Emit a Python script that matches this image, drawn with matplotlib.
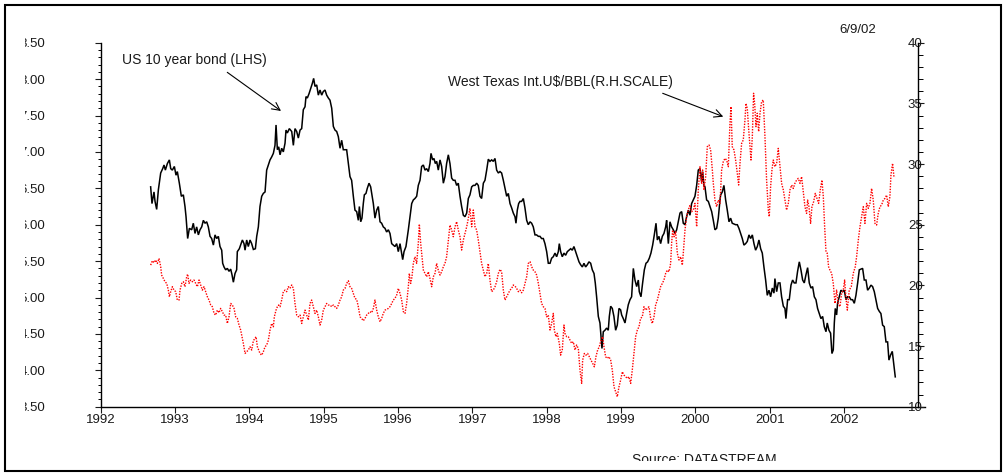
import numpy as np
import matplotlib
matplotlib.use("Agg")
import matplotlib.pyplot as plt
from matplotlib.patches import Rectangle
from matplotlib.ticker import MultipleLocator, FixedLocator

plt.rcParams['font.family'] = ['Liberation Sans', 'DejaVu Sans']

# US 10 year bond yield (left scale), decimal years
bond_t = [
    1992.672, 1992.690, 1992.717, 1992.731, 1992.753, 1992.776, 1992.807, 1992.834, 1992.852, 1992.870,
    1992.897, 1992.924, 1992.942, 1992.964, 1992.991, 1993.013, 1993.031, 1993.058, 1993.085, 1993.112,
    1993.134, 1993.148, 1993.170, 1993.193, 1993.224, 1993.246, 1993.269, 1993.291, 1993.314, 1993.336,
    1993.359, 1993.381, 1993.403, 1993.426, 1993.448, 1993.471, 1993.493, 1993.516, 1993.538, 1993.560,
    1993.583, 1993.605, 1993.628, 1993.641, 1993.659, 1993.681, 1993.704, 1993.726, 1993.749, 1993.767,
    1993.785, 1993.807, 1993.829, 1993.838, 1993.865, 1993.888, 1993.906, 1993.928, 1993.942, 1993.964,
    1993.986, 1994.009, 1994.031, 1994.054, 1994.081, 1994.099, 1994.121, 1994.143, 1994.166, 1994.188,
    1994.211, 1994.233, 1994.256, 1994.278, 1994.300, 1994.323, 1994.345, 1994.359, 1994.377, 1994.395,
    1994.413, 1994.435, 1994.457, 1994.480, 1994.493, 1994.511, 1994.538, 1994.570, 1994.592, 1994.614,
    1994.637, 1994.659, 1994.682, 1994.704, 1994.726, 1994.749, 1994.762, 1994.780, 1994.803, 1994.825,
    1994.847, 1994.865, 1994.883, 1994.906, 1994.928, 1994.951, 1994.973, 1994.995, 1995.018, 1995.040,
    1995.063, 1995.085, 1995.108, 1995.130, 1995.152, 1995.175, 1995.197, 1995.220,
    1995.242, 1995.264, 1995.309, 1995.332, 1995.354, 1995.376, 1995.399, 1995.421, 1995.444, 1995.466,
    1995.480, 1995.498, 1995.515, 1995.533, 1995.547, 1995.569, 1995.587, 1995.610, 1995.632, 1995.646,
    1995.668, 1995.690, 1995.713, 1995.735, 1995.758, 1995.780, 1995.802, 1995.825, 1995.847, 1995.870,
    1995.892, 1995.915, 1995.937, 1995.959, 1995.982, 1996.004, 1996.027, 1996.049, 1996.063, 1996.081,
    1996.107, 1996.139, 1996.161, 1996.184, 1996.206, 1996.228, 1996.251, 1996.273, 1996.296, 1996.318,
    1996.341, 1996.363, 1996.385, 1996.408, 1996.430, 1996.444, 1996.466, 1996.484, 1996.502, 1996.520,
    1996.542, 1996.565, 1996.587, 1996.610, 1996.632, 1996.654, 1996.677, 1996.699, 1996.722, 1996.744,
    1996.767, 1996.789, 1996.811, 1996.834, 1996.856, 1996.879, 1996.901, 1996.924, 1996.946, 1996.968,
    1996.991, 1997.013, 1997.036, 1997.058, 1997.080, 1997.103, 1997.125, 1997.148, 1997.170, 1997.193,
    1997.215, 1997.237, 1997.260, 1997.282, 1997.305, 1997.327, 1997.350, 1997.372, 1997.394, 1997.417,
    1997.439, 1997.462, 1997.484, 1997.507, 1997.529, 1997.551, 1997.574, 1997.587, 1997.605, 1997.623,
    1997.641, 1997.663, 1997.686, 1997.708, 1997.731, 1997.753, 1997.776,
    1997.798, 1997.820, 1997.843, 1997.865, 1997.888, 1997.910, 1997.932, 1997.955, 1997.977, 1998.000,
    1998.022, 1998.045, 1998.067, 1998.089, 1998.112, 1998.134, 1998.157, 1998.170, 1998.188, 1998.210,
    1998.233, 1998.255, 1998.278, 1998.300, 1998.323, 1998.345, 1998.367, 1998.390, 1998.412, 1998.435,
    1998.457, 1998.480, 1998.502, 1998.524, 1998.547, 1998.569, 1998.592, 1998.614, 1998.637, 1998.654,
    1998.672, 1998.695, 1998.717, 1998.731, 1998.744, 1998.762, 1998.784, 1998.807, 1998.829, 1998.843,
    1998.861, 1998.883, 1998.905, 1998.928, 1998.950, 1998.973, 1998.995, 1999.009, 1999.031, 1999.054,
    1999.076, 1999.098, 1999.121, 1999.143, 1999.166, 1999.188, 1999.211, 1999.233, 1999.246, 1999.269,
    1999.291, 1999.314, 1999.336, 1999.358, 1999.381, 1999.403, 1999.426, 1999.448, 1999.471, 1999.489,
    1999.511, 1999.533, 1999.556, 1999.578, 1999.601, 1999.614, 1999.637, 1999.659, 1999.681, 1999.704,
    1999.726, 1999.749, 1999.771, 1999.794, 1999.816, 1999.838, 1999.861, 1999.883, 1999.906, 1999.928,
    1999.950, 1999.973, 1999.995, 2000.018, 2000.040, 2000.063, 2000.085, 2000.098, 2000.116, 2000.130,
    2000.152, 2000.175, 2000.197, 2000.220, 2000.242, 2000.264, 2000.287, 2000.309, 2000.332,
    2000.341, 2000.363, 2000.385, 2000.408, 2000.430, 2000.453, 2000.475, 2000.497, 2000.520, 2000.542,
    2000.565, 2000.587, 2000.610, 2000.632, 2000.654, 2000.677, 2000.699, 2000.722, 2000.744, 2000.767,
    2000.789, 2000.811, 2000.834, 2000.856, 2000.879, 2000.901, 2000.923, 2000.946, 2000.968, 2000.991,
    2001.013, 2001.036, 2001.058, 2001.071, 2001.094, 2001.116, 2001.139, 2001.161, 2001.184, 2001.206,
    2001.219, 2001.242, 2001.264, 2001.287, 2001.309, 2001.331, 2001.354, 2001.376, 2001.399, 2001.421,
    2001.444, 2001.466, 2001.488, 2001.511, 2001.533, 2001.556, 2001.578, 2001.601, 2001.623, 2001.645,
    2001.668, 2001.690, 2001.713, 2001.735, 2001.758, 2001.775, 2001.798, 2001.820, 2001.838, 2001.856,
    2001.870, 2001.883, 2001.901, 2001.914, 2001.937, 2001.959, 2001.982, 2002.004, 2002.027, 2002.049,
    2002.071, 2002.094, 2002.116, 2002.139, 2002.161, 2002.184, 2002.206, 2002.228, 2002.251, 2002.273,
    2002.296, 2002.318, 2002.341, 2002.363, 2002.385, 2002.408, 2002.430, 2002.453, 2002.475, 2002.497,
    2002.520, 2002.542, 2002.565, 2002.587, 2002.605, 2002.627, 2002.650, 2002.672, 2002.690,
]
bond_v = [
    6.52, 6.29, 6.45, 6.32, 6.21, 6.48, 6.71, 6.77, 6.82, 6.75,
    6.84, 6.89, 6.77, 6.75, 6.80, 6.68, 6.73, 6.57, 6.39, 6.41,
    6.25, 6.11, 5.81, 5.95, 5.93, 6.02, 5.88, 5.97, 5.86, 5.93,
    5.97, 6.06, 6.02, 6.04, 5.97, 5.84, 5.81, 5.72, 5.86, 5.81,
    5.84, 5.70, 5.65, 5.47, 5.42, 5.38, 5.40, 5.36, 5.39, 5.31,
    5.21, 5.33, 5.38, 5.63, 5.67, 5.74, 5.79, 5.74, 5.65, 5.79,
    5.70, 5.79, 5.74, 5.66, 5.67, 5.84, 5.97, 6.25, 6.39, 6.43,
    6.45, 6.75, 6.82, 6.89, 6.93, 6.98, 7.09, 7.37, 7.03, 7.07,
    6.96, 7.05, 7.00, 7.12, 7.30, 7.26, 7.32, 7.28, 7.09, 7.32,
    7.28, 7.19, 7.30, 7.32, 7.58, 7.62, 7.76, 7.74, 7.80, 7.87,
    7.94, 8.01, 7.90, 7.92, 7.78, 7.85, 7.78, 7.83, 7.85, 7.78,
    7.74, 7.71, 7.60, 7.35, 7.30, 7.28, 7.21, 7.05,
    7.16, 7.03, 7.03, 6.84, 6.66, 6.61, 6.39, 6.20, 6.18, 6.06,
    6.25, 6.04, 6.09, 6.29, 6.41, 6.43, 6.50, 6.57, 6.52, 6.43,
    6.29, 6.09, 6.20, 6.25, 6.04, 6.02, 5.97, 5.95, 5.90, 5.93,
    5.88, 5.74, 5.72, 5.70, 5.74, 5.63, 5.74, 5.61, 5.52, 5.63,
    5.70, 5.93, 6.11, 6.29, 6.34, 6.36, 6.39, 6.54, 6.61, 6.80,
    6.82, 6.75, 6.77, 6.73, 6.84, 6.98, 6.89, 6.91, 6.84, 6.87,
    6.75, 6.89, 6.80, 6.57, 6.66, 6.84, 6.96, 6.84, 6.64, 6.61,
    6.61, 6.54, 6.57, 6.39, 6.25, 6.13, 6.11, 6.16, 6.36, 6.41,
    6.52, 6.54, 6.54, 6.57, 6.54, 6.39, 6.36, 6.57, 6.61, 6.75,
    6.90, 6.87, 6.89, 6.87, 6.91, 6.75, 6.71, 6.73, 6.71, 6.61,
    6.50, 6.39, 6.43, 6.29, 6.23, 6.16, 6.11, 6.02, 6.20, 6.29,
    6.32, 6.32, 6.36, 6.23, 6.06, 6.00, 6.04,
    6.02, 5.97, 5.86, 5.86, 5.84, 5.84, 5.81, 5.81, 5.74, 5.63,
    5.47, 5.47, 5.54, 5.56, 5.61, 5.56, 5.63, 5.74, 5.63, 5.56,
    5.61, 5.58, 5.63, 5.65, 5.67, 5.65, 5.70, 5.63, 5.56, 5.49,
    5.45, 5.42, 5.47, 5.42, 5.45, 5.49, 5.47, 5.38, 5.33, 5.20,
    5.01, 4.74, 4.65, 4.46, 4.30, 4.53, 4.55, 4.58, 4.55, 4.74,
    4.88, 4.85, 4.74, 4.55, 4.62, 4.85, 4.83, 4.76, 4.71, 4.65,
    4.78, 4.90, 4.97, 5.01, 5.40, 5.24, 5.15, 5.24, 5.08, 5.01,
    5.20, 5.38, 5.47, 5.49, 5.54, 5.61, 5.72, 5.86, 6.02, 5.79,
    5.84, 5.74, 5.84, 5.88, 5.97, 6.06, 5.74, 6.04, 5.97, 5.93,
    5.88, 5.93, 6.04, 6.16, 6.18, 6.02, 6.00, 6.11, 6.20, 6.13,
    6.29, 6.34, 6.39, 6.54, 6.75, 6.77, 6.59, 6.73, 6.54, 6.52,
    6.34, 6.32, 6.25, 6.18, 6.06, 5.93, 5.95, 6.09, 6.34,
    6.41, 6.45, 6.54, 6.34, 6.20, 6.04, 6.09, 6.02, 6.01, 6.00,
    6.00, 5.95, 5.88, 5.81, 5.72, 5.74, 5.77, 5.86, 5.81, 5.86,
    5.74, 5.65, 5.70, 5.79, 5.67, 5.61, 5.42, 5.24, 5.03, 5.10,
    5.01, 5.13, 5.06, 5.26, 5.08, 5.20, 5.20, 5.01, 4.88, 4.85,
    4.71, 4.97, 4.97, 5.17, 5.24, 5.20, 5.20, 5.36, 5.49, 5.38,
    5.24, 5.20, 5.31, 5.41, 5.20, 5.13, 5.15, 5.01, 4.97, 4.85,
    4.78, 4.71, 4.74, 4.60, 4.53, 4.65, 4.55, 4.51, 4.23, 4.28,
    4.65, 4.85, 4.76, 4.92, 5.01, 5.10, 5.08, 5.10, 4.97, 5.01,
    5.01, 4.97, 4.97, 4.92, 5.03, 5.20, 5.38, 5.39, 5.40, 5.24,
    5.24, 5.10, 5.13, 5.17, 5.15, 5.08, 4.97, 4.85, 4.81, 4.78,
    4.62, 4.60, 4.39, 4.39, 4.14, 4.21, 4.26, 4.07, 3.91,
]

# West Texas Intermediate, US$/bbl (right scale)
oil_t = [
    1992.672, 1992.695, 1992.717, 1992.740, 1992.762, 1992.785, 1992.807, 1992.820, 1992.843, 1992.865,
    1992.888, 1992.910, 1992.924, 1992.942, 1992.964, 1992.986, 1993.009, 1993.031, 1993.054, 1993.067,
    1993.090, 1993.112, 1993.134, 1993.157, 1993.170, 1993.188, 1993.211, 1993.233, 1993.255, 1993.278,
    1993.300, 1993.323, 1993.345, 1993.368, 1993.390, 1993.412, 1993.435, 1993.457, 1993.480, 1993.502,
    1993.525, 1993.547, 1993.569, 1993.592, 1993.614, 1993.637, 1993.659, 1993.681, 1993.704, 1993.726,
    1993.749, 1993.771, 1993.794, 1993.816, 1993.838, 1993.861, 1993.883, 1993.901, 1993.919, 1993.942,
    1993.964, 1993.986, 1994.009, 1994.031, 1994.054, 1994.076, 1994.090, 1994.108, 1994.125, 1994.143,
    1994.166, 1994.188, 1994.211, 1994.233, 1994.256, 1994.278, 1994.300, 1994.323, 1994.336, 1994.359,
    1994.377, 1994.395, 1994.413, 1994.435, 1994.457, 1994.480, 1994.502, 1994.525, 1994.547, 1994.570,
    1994.592, 1994.614, 1994.637, 1994.659, 1994.682, 1994.704, 1994.726, 1994.749, 1994.771, 1994.794,
    1994.816, 1994.838, 1994.861, 1994.883, 1994.906, 1994.928, 1994.951, 1994.973, 1994.995, 1995.018,
    1995.040, 1995.063, 1995.085, 1995.108, 1995.130, 1995.152, 1995.175, 1995.197, 1995.220,
    1995.242, 1995.264, 1995.287, 1995.309, 1995.332, 1995.354, 1995.376, 1995.399, 1995.421, 1995.444,
    1995.466, 1995.489, 1995.511, 1995.533, 1995.556, 1995.578, 1995.601, 1995.623, 1995.646, 1995.668,
    1995.690, 1995.713, 1995.735, 1995.758, 1995.780, 1995.802, 1995.825, 1995.847, 1995.870, 1995.892,
    1995.915, 1995.937, 1995.959, 1995.982, 1996.004, 1996.027, 1996.049, 1996.072, 1996.094, 1996.116,
    1996.139, 1996.152, 1996.170, 1996.188, 1996.206, 1996.228, 1996.251, 1996.273, 1996.287, 1996.305,
    1996.323, 1996.341, 1996.363, 1996.385, 1996.408, 1996.430, 1996.453, 1996.475, 1996.498, 1996.520,
    1996.542, 1996.565, 1996.587, 1996.610, 1996.632, 1996.654, 1996.677, 1996.699, 1996.722, 1996.744,
    1996.767, 1996.789, 1996.811, 1996.834, 1996.856, 1996.879, 1996.901, 1996.924, 1996.946, 1996.968,
    1996.991, 1997.013, 1997.036, 1997.058, 1997.080, 1997.103, 1997.125, 1997.148, 1997.170, 1997.193,
    1997.215, 1997.237, 1997.260, 1997.282, 1997.305, 1997.327, 1997.350, 1997.372, 1997.394, 1997.417,
    1997.439, 1997.462, 1997.484, 1997.507, 1997.529, 1997.551, 1997.574, 1997.596, 1997.619, 1997.641,
    1997.663, 1997.686, 1997.708, 1997.731, 1997.753, 1997.776,
    1997.798, 1997.820, 1997.843, 1997.865, 1997.888, 1997.910, 1997.932, 1997.955, 1997.977, 1998.000,
    1998.022, 1998.045, 1998.067, 1998.089, 1998.103, 1998.125, 1998.143, 1998.170, 1998.188, 1998.210,
    1998.233, 1998.246, 1998.269, 1998.291, 1998.314, 1998.336, 1998.359, 1998.381, 1998.403, 1998.426,
    1998.448, 1998.471, 1998.484, 1998.507, 1998.529, 1998.551, 1998.574, 1998.596, 1998.619, 1998.641,
    1998.663, 1998.686, 1998.708, 1998.731, 1998.753, 1998.771, 1998.793, 1998.816, 1998.838, 1998.861,
    1998.883, 1998.906, 1998.928, 1998.950, 1998.973, 1998.995, 1999.018, 1999.040, 1999.063, 1999.085,
    1999.107, 1999.130, 1999.152, 1999.175, 1999.197, 1999.220, 1999.242, 1999.264, 1999.287, 1999.309,
    1999.332, 1999.354, 1999.376, 1999.399, 1999.421, 1999.444, 1999.466, 1999.489, 1999.511, 1999.533,
    1999.556, 1999.578, 1999.601, 1999.623, 1999.646, 1999.668, 1999.681, 1999.695, 1999.713, 1999.735,
    1999.758, 1999.780, 1999.803, 1999.825, 1999.838, 1999.861, 1999.883, 1999.906, 1999.928, 1999.950,
    1999.973, 1999.995, 2000.018, 2000.040, 2000.063, 2000.085, 2000.098, 2000.116, 2000.139, 2000.161,
    2000.184, 2000.206, 2000.229, 2000.242, 2000.264, 2000.287, 2000.309, 2000.332,
    2000.354, 2000.376, 2000.399, 2000.421, 2000.444, 2000.466, 2000.480, 2000.497, 2000.520, 2000.542,
    2000.565, 2000.583, 2000.601, 2000.623, 2000.645, 2000.668, 2000.681, 2000.699, 2000.717, 2000.735,
    2000.749, 2000.767, 2000.784, 2000.798, 2000.816, 2000.834, 2000.852, 2000.870, 2000.892, 2000.914,
    2000.937, 2000.959, 2000.982, 2000.995, 2001.013, 2001.031, 2001.049, 2001.071, 2001.094, 2001.116,
    2001.139, 2001.161, 2001.184, 2001.206, 2001.228, 2001.251, 2001.273, 2001.296, 2001.318, 2001.340,
    2001.363, 2001.385, 2001.408, 2001.430, 2001.453, 2001.475, 2001.497, 2001.511, 2001.529, 2001.551,
    2001.569, 2001.592, 2001.614, 2001.636, 2001.659, 2001.681, 2001.704, 2001.722, 2001.740, 2001.758,
    2001.775, 2001.793, 2001.811, 2001.834, 2001.856, 2001.879, 2001.901, 2001.923, 2001.946, 2001.968,
    2001.991, 2002.009, 2002.027, 2002.045, 2002.071, 2002.098, 2002.125, 2002.152, 2002.170, 2002.193,
    2002.215, 2002.237, 2002.260, 2002.282, 2002.305, 2002.327, 2002.349, 2002.372, 2002.394, 2002.417,
    2002.439, 2002.461, 2002.484, 2002.506, 2002.529, 2002.551, 2002.574, 2002.596, 2002.618, 2002.632,
    2002.654, 2002.672, 2002.690,
]
oil_v = [
    21.67, 22.03, 21.87, 22.09, 21.81, 22.22, 21.54, 20.85, 20.57, 20.30,
    20.16, 19.61, 19.06, 19.48, 19.89, 19.61, 19.48, 18.79, 18.79, 19.61,
    20.16, 20.30, 19.89, 20.71, 20.93, 20.16, 20.44, 20.30, 20.44, 20.16,
    19.89, 20.44, 20.03, 19.61, 19.89, 19.48, 19.06, 18.79, 18.38, 18.24,
    17.69, 17.55, 17.96, 17.74, 18.10, 17.83, 17.55, 17.55, 16.86, 17.41,
    18.51, 18.38, 18.10, 17.41, 17.28, 16.73, 16.32, 15.77, 15.22, 14.39,
    14.53, 14.67, 14.94, 14.67, 15.44, 15.63, 15.77, 14.94, 14.67, 14.39,
    14.25, 14.53, 14.94, 15.08, 15.49, 16.32, 16.86, 16.59, 17.41, 17.96,
    18.24, 18.38, 18.24, 18.79, 19.48, 19.61, 19.48, 19.89, 19.75, 20.03,
    19.75, 18.51, 17.55, 17.41, 17.55, 16.86, 17.41, 17.96, 17.55, 17.14,
    18.51, 18.79, 18.24, 17.69, 17.96, 17.41, 16.73, 17.14, 17.96, 18.24,
    18.51, 18.38, 18.38, 18.24, 18.38, 18.24, 18.10, 18.38, 18.79,
    19.06, 19.61, 19.75, 20.16, 20.38, 19.89, 19.75, 19.34, 18.93, 18.84,
    18.24, 17.41, 17.28, 17.08, 17.28, 17.55, 17.69, 17.83, 17.74, 18.10,
    18.79, 17.96, 17.41, 17.00, 17.28, 17.69, 17.96, 18.02, 18.10, 18.24,
    18.51, 18.79, 18.93, 19.20, 19.75, 19.34, 18.79, 17.83, 17.69, 18.51,
    19.89, 20.99, 20.16, 20.71, 21.81, 22.36, 21.81, 23.46, 25.05, 23.46,
    22.36, 21.26, 20.99, 20.71, 21.12, 20.57, 19.89, 20.71, 20.99, 21.81,
    21.26, 20.85, 21.12, 21.54, 21.81, 22.36, 23.74, 24.97, 24.56, 24.01,
    24.83, 25.25, 24.56, 24.01, 22.91, 23.74, 24.28, 24.83, 25.52, 26.35,
    24.83, 26.21, 24.83, 24.56, 23.74, 22.77, 21.81, 21.26, 20.71, 20.99,
    21.81, 20.44, 19.48, 19.61, 19.89, 20.30, 20.99, 21.32, 21.12, 19.61,
    18.79, 19.06, 19.34, 19.61, 19.75, 20.03, 19.94, 19.75, 19.48, 19.61,
    19.39, 19.61, 20.16, 20.71, 21.81, 21.95,
    21.54, 21.26, 21.12, 20.85, 20.16, 19.34, 18.51, 18.24, 18.10, 17.41,
    17.55, 16.32, 16.86, 17.69, 16.32, 15.77, 16.04, 15.22, 14.25, 14.67,
    16.73, 16.04, 15.77, 15.77, 15.49, 15.22, 15.35, 14.67, 15.08, 14.80,
    13.02, 11.92, 13.84, 14.39, 14.25, 14.39, 14.12, 13.84, 13.57, 13.29,
    14.12, 14.67, 14.94, 15.49, 15.77, 14.94, 14.12, 13.98, 14.12, 13.84,
    13.02, 11.64, 11.23, 10.82, 11.64, 12.19, 12.88, 12.61, 12.47, 12.33,
    12.47, 11.92, 13.02, 14.39, 15.77, 16.32, 16.59, 17.28, 17.41, 18.24,
    17.96, 18.10, 18.24, 17.28, 16.86, 17.41, 18.38, 18.79, 19.34, 19.89,
    20.16, 20.44, 20.99, 21.26, 21.12, 21.81, 23.46, 24.56, 24.01, 24.42,
    22.64, 22.09, 22.36, 21.67, 22.64, 24.56, 25.66, 26.21, 26.62, 26.07,
    26.21, 26.76, 24.83, 27.86, 29.78, 28.41, 29.51, 27.86, 28.96, 31.43,
    31.57, 31.16, 29.51, 28.41, 27.03, 26.48, 27.03, 26.76,
    29.51, 30.19, 30.47, 30.33, 29.78, 33.35, 34.73, 31.43, 31.16, 30.33,
    29.23, 28.27, 30.06, 31.70, 31.98, 33.63, 35.00, 34.59, 32.94, 31.43,
    30.33, 32.25, 35.83, 35.00, 33.08, 34.18, 32.67, 34.18, 35.14, 35.28,
    32.25, 28.68, 26.21, 25.66, 28.13, 29.51, 30.33, 29.78, 30.06, 31.29,
    29.78, 28.41, 27.86, 27.03, 26.21, 26.76, 27.86, 28.27, 27.99, 28.41,
    28.68, 28.82, 28.41, 28.96, 27.72, 26.48, 25.93, 27.03, 26.48, 25.11,
    26.48, 26.90, 27.58, 27.17, 26.76, 27.86, 28.68, 27.31, 24.83, 22.77,
    22.64, 21.54, 21.26, 20.99, 20.16, 18.51, 19.61, 18.51, 18.24, 19.34,
    19.61, 20.44, 18.93, 17.96, 19.61, 19.89, 20.99, 21.54, 22.36, 23.74,
    24.83, 25.66, 26.48, 25.11, 26.76, 26.35, 26.76, 27.99, 27.03, 25.11,
    24.97, 25.93, 26.48, 26.62, 27.03, 27.17, 27.44, 26.48, 27.31, 29.09,
    30.06, 28.96, 28.96,
]

years = list(range(1992, 2003))
left_ticks = [3.5, 4.0, 4.5, 5.0, 5.5, 6.0, 6.5, 7.0, 7.5, 8.0, 8.5]
right_ticks = [10, 15, 20, 25, 30, 35, 40]

W, H = 1008, 475
fig = plt.figure(figsize=(W / 100, H / 100), dpi=100)
fig.patch.set_facecolor('white')

ax = fig.add_axes([100.7 / W, 1 - 406.7 / H, 817.6 / W, 364.0 / H])
ax2 = ax.twinx()

ax.plot(bond_t, bond_v, color='black', lw=1.1, solid_joinstyle='miter')
ax2.plot(oil_t, oil_v, color='red', lw=1.0, linestyle=(0, (1, 1)))

ax.set_xlim(1992, 2003)
ax.set_ylim(3.5, 8.5)
ax2.set_ylim(10, 40)

ax.set_xticks(years)
ax.set_xticklabels([str(y) for y in years])
ax.yaxis.set_major_locator(FixedLocator(left_ticks))
ax.set_yticklabels(['%.2f' % v for v in left_ticks])
ax.yaxis.set_minor_locator(MultipleLocator(0.1))
ax2.yaxis.set_major_locator(FixedLocator(right_ticks))
ax2.set_yticklabels([str(v) for v in right_ticks])
ax2.yaxis.set_minor_locator(MultipleLocator(1))

for a in (ax, ax2):
    a.spines['top'].set_visible(False)
    a.patch.set_visible(False)
ax.spines['right'].set_visible(False)
ax2.spines['left'].set_visible(False)
ax2.spines['bottom'].set_visible(False)
ax.spines['bottom'].set_bounds(1992, 2003.09)
for sp in ('left', 'bottom'):
    ax.spines[sp].set_linewidth(1.0)
ax2.spines['right'].set_linewidth(1.0)

ax.tick_params(axis='x', direction='out', length=4, width=0.8, pad=1.5,
               labelsize=9.5, colors='#1a1a1a')
ax.tick_params(axis='y', which='major', direction='out', length=4.5, width=0.8,
               pad=35.5, labelsize=9.5, colors='#1a1a1a')
ax.tick_params(axis='y', which='minor', direction='out', length=2.5, width=0.7)
ax2.tick_params(axis='y', which='major', direction='out', length=4.5, width=0.8,
                pad=-12, labelsize=9.5, colors='#1a1a1a')
ax2.tick_params(axis='y', which='minor', direction='out', length=3.5, width=0.7)

# annotations
ax.text(1992.283, 8.262, 'US 10 year bond (LHS)', fontsize=10, va='center',
        color='#1a1a1a')
ax.annotate('', xy=(1994.426, 7.562), xytext=(1993.703, 8.093),
            arrowprops=dict(arrowstyle='->', lw=0.8, color='black',
                            shrinkA=0, shrinkB=0, mutation_scale=14))
ax.text(1996.676, 7.956, 'West Texas Int.U\\$/BBL(R.H.SCALE)', fontsize=10,
        va='center', color='#1a1a1a')
ax.annotate('', xy=(2000.376, 7.484), xytext=(1999.561, 7.805),
            arrowprops=dict(arrowstyle='->', lw=0.8, color='black',
                            shrinkA=0, shrinkB=0, mutation_scale=14))

fig.text(876 / W, 1 - 30 / H, '6/9/02', fontsize=9.5, ha='right', va='center',
         color='#1a1a1a')
fig.text(631.7 / W, 1 - 463.7 / H, 'Source: DATASTREAM', fontsize=10,
         ha='left', va='baseline', color='#1a1a1a')

# white masks that crop the left labels and the source line, then the frame
fig.add_artist(Rectangle((6 / W, 0.08), 19 / W, 0.86, transform=fig.transFigure,
                         facecolor='white', edgecolor='none', zorder=4))
fig.add_artist(Rectangle((600 / W, 1 - 470 / H), 220 / W, 9 / H,
                         transform=fig.transFigure, facecolor='white',
                         edgecolor='none', zorder=4))
fig.add_artist(Rectangle((4.5 / W, 1 - 471 / H), 996.5 / W, 466 / H,
                         transform=fig.transFigure, fill=False, edgecolor='black',
                         lw=1.5, zorder=5))

fig.savefig('out.png', dpi=100)
